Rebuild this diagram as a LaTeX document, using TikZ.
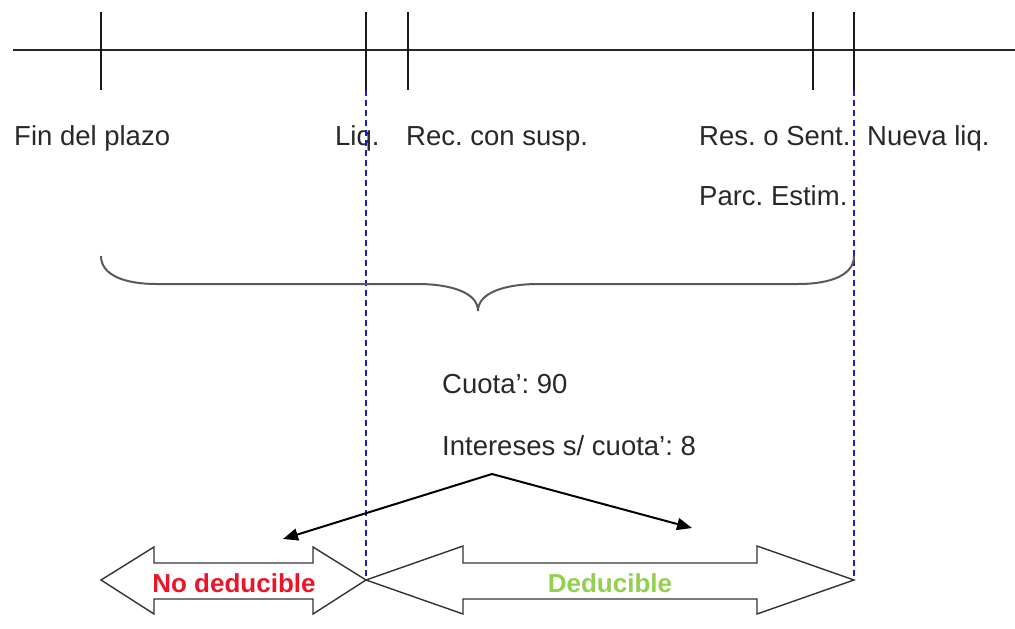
\documentclass[tikz,border=0pt]{standalone}
\usepackage{fontspec}
\setmainfont{Liberation Sans}
\usetikzlibrary{arrows.meta}
\frenchspacing
\definecolor{txtgray}{RGB}{40,40,40}
\definecolor{guideblue}{RGB}{30,30,190}
\definecolor{nored}{RGB}{235,20,40}
\definecolor{yesgreen}{RGB}{146,208,80}
\tikzset{
  lbl/.style={anchor=base west, inner sep=0pt, text=txtgray, font=\fontsize{27.5}{33}\selectfont},
  axis/.style={line width=2.2pt, black!85},
  tick/.style={line width=1.6pt, black!90},
  guide/.style={line width=1.4pt, guideblue, dash pattern=on 6pt off 4pt},
  bracepath/.style={line width=2pt, black!65},
  blockarrow/.style={line width=1.4pt, black!80, fill=white, line join=miter},
  pointer/.style={line width=2pt, black, -{Triangle[length=15pt,width=12pt]}},
  tag/.style={inner sep=0pt, font=\bfseries\fontsize{26}{30}\selectfont}
}
\begin{document}
\begin{tikzpicture}[x=1pt, y=-1pt]
\useasboundingbox (0,0) rectangle (1015,629);

% time axis and ticks
\coordinate (axL) at (13,50);
\coordinate (axR) at (1015,50);
\draw[axis] (axL) -- (axR);
\foreach \name/\xx in {fin/101, liq/366, rec/408, res/813, nueva/854}{
  \coordinate (\name-top) at (\xx,12);
  \coordinate (\name-bot) at (\xx,90);
  \draw[tick] (\name-top) -- (\name-bot);
}

% event labels
\node[lbl] (tFin)   at (14,145)  {Fin del plazo};
\node[lbl] (tLiq)   at (335,145) {Liq.};
\node[lbl] (tRec)   at (406,145) {Rec. con susp.};
\node[lbl] (tRes)   at (699,145) {Res. o Sent.};
\node[lbl] (tNueva) at (867,145) {Nueva liq.};
\node[lbl] (tParc)  at (699,205) {Parc. Estim.};

% block arrows
\coordinate (noL) at (101,580);
\coordinate (split) at (366,580);
\coordinate (yesR) at (854,580);
\draw[blockarrow] (noL) -- (154,547) -- (154,563) -- (313,563) -- (313,547) -- (split)
  -- (313,614) -- (313,599) -- (154,599) -- (154,614) -- cycle;
\draw[blockarrow] (split) -- (463,546) -- (463,563) -- (757,563) -- (757,546) -- (yesR)
  -- (757,614) -- (757,599) -- (463,599) -- (463,614) -- cycle;
\node[tag, text=nored]    (noded) at (234,583) {No deducible};
\node[tag, text=yesgreen] (ded)   at (610,583) {Deducible};

% guide lines
\draw[guide] (liq-bot) -- (split);
\draw[guide] (nueva-bot) -- (yesR);

% brace over the whole period
\coordinate (brL) at (101,256);
\coordinate (brR) at (854,256);
\coordinate (brTip) at (478,311);
\draw[bracepath] (brL) .. controls (101,274) and (122,284) .. (157,284)
  -- (417,284) .. controls (452,284) and (478,293) .. (brTip)
  .. controls (478,293) and (504,284) .. (539,284)
  -- (798,284) .. controls (833,284) and (854,274) .. (brR);

% amounts
\node[lbl] (cuota) at (442,393) {Cuota’: 90};
\node[lbl] (inter) at (442,455) {Intereses s/ cuota’: 8};

% pointers to both parts
\coordinate (apex) at (492,474);
\coordinate (toNo) at (283,539);
\coordinate (toYes) at (692,528);
\draw[pointer] (apex) -- (toNo);
\draw[pointer] (apex) -- (toYes);
\end{tikzpicture}
\end{document}
